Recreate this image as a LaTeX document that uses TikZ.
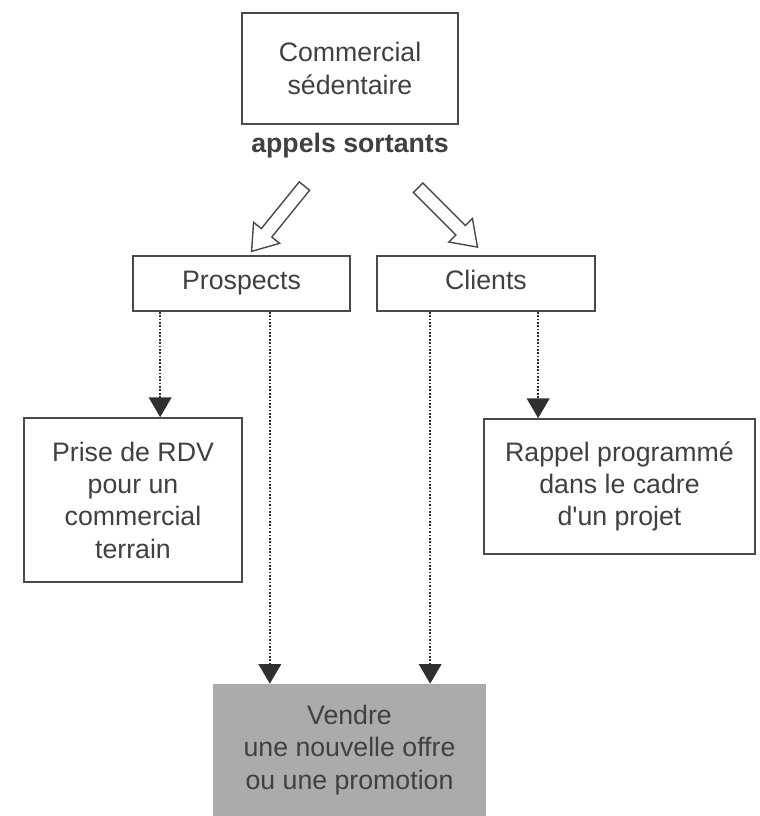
\documentclass[tikz,border=0pt]{standalone}
\usepackage{fontspec}
\setmainfont{Liberation Sans}
\usetikzlibrary{positioning,shapes.arrows,arrows.meta}
\definecolor{trait}{HTML}{4A4A4A}
\definecolor{pointe}{HTML}{303030}
\definecolor{texte}{HTML}{404040}
\definecolor{fond}{HTML}{ABABAB}

\begin{document}
\begin{tikzpicture}[font=\fontsize{19}{23}\selectfont, text=texte]
        \tikzstyle{boite} = [rectangle, draw=trait, line width=1.2pt, align=center, inner sep=0pt]
        \tikzstyle{ligne} = [boite, text height=1.08em, text depth=0.2em, minimum height=1.375cm]
        \tikzstyle{cible} = [rectangle, fill=fond, align=center, inner sep=0pt]
        \tikzstyle{creuse} = [single arrow, draw=trait, line width=1pt, fill=white, inner xsep=0pt, inner ysep=0.15cm, minimum height=2.1cm, single arrow head extend=0.25cm, single arrow tip angle=70]
        \tikzstyle{pointille} = [draw=pointe, line width=1.4pt, dash pattern=on 1.2pt off 1.2pt, -{Triangle[width=16pt,length=14pt]}]

        \useasboundingbox (0,0) rectangle (19,-20.4);

        \node [boite, minimum width=5.4cm, minimum height=2.775cm] (haut) at (8.75,-1.7125) {Commercial\\sédentaire};
        \node [font=\fontsize{19}{23}\selectfont\bfseries] (appels) at (8.75,-3.65) {appels sortants};

        \node [creuse, rotate=231] (flecheG) at (7.025,-5.375) {};
        \node [creuse, rotate=-45] (flecheD) at (11.11,-5.35) {};

        \node [ligne, minimum width=5.425cm] (prosp) at (6.0375,-7.0875) {Prospects};
        \node [ligne, minimum width=5.45cm] (clients) at (12.15,-7.0875) {Clients};

        \node [boite, minimum width=5.45cm, minimum height=4.1cm] (rdv) at (3.325,-12.5) {Prise de RDV\\pour un\\commercial\\terrain};
        \node [boite, minimum width=6.775cm, minimum height=3.375cm] (rappel) at (15.4875,-12.1625) {Rappel programmé\\dans le cadre\\d\textquotesingle un projet};
        \node [cible, minimum width=6.825cm, minimum height=3.3cm] (vente) at (8.7375,-18.75) {Vendre\\une nouvelle offre\\ou une promotion};

        \coordinate (p1) at ([xshift=0.7cm]prosp.south west);
        \coordinate (p2) at ([xshift=-2.025cm]prosp.south east);
        \coordinate (c1) at ([xshift=1.35cm]clients.south west);
        \coordinate (c2) at ([xshift=4.05cm]clients.south west);

        \draw [pointille] (p1) -- (p1 |- rdv.north);
        \draw [pointille] (p2) -- (p2 |- vente.north);
        \draw [pointille] (c1) -- (c1 |- vente.north);
        \draw [pointille] (c2) -- (c2 |- rappel.north);
    \end{tikzpicture}
\end{document}
